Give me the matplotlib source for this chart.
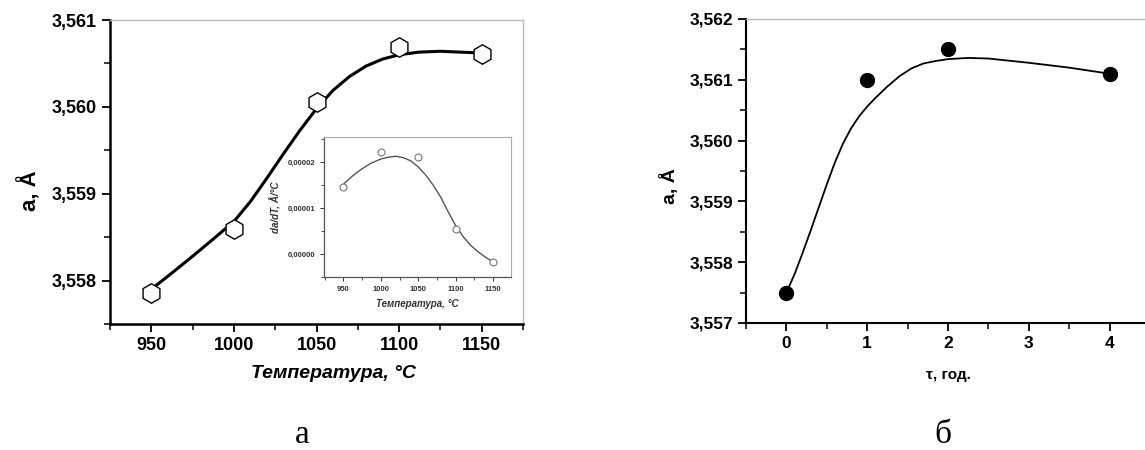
import numpy as np
import matplotlib
matplotlib.use("Agg")
import matplotlib.pyplot as plt
from matplotlib.ticker import MultipleLocator, FuncFormatter

plt.rcParams['font.family'] = ['Liberation Sans', 'DejaVu Sans']

# Panel a: lattice parameter vs temperature
temp = [950, 1000, 1050, 1100, 1150]
a_temp = [3.55786, 3.55859, 3.56006, 3.56069, 3.56061]
fit_temp = [950, 962, 975, 987, 1000, 1010, 1020, 1030, 1040, 1050, 1060,
            1070, 1080, 1090, 1100, 1112, 1125, 1137, 1150]
fit_a_temp = [3.55790, 3.55808, 3.55828, 3.55847, 3.55868, 3.55891, 3.55918,
              3.55946, 3.55973, 3.55998, 3.56019, 3.56035, 3.56047, 3.56055,
              3.56060, 3.56063, 3.56064, 3.56063, 3.56062]

# inset: da/dT
dadt = [1.46e-5, 2.22e-5, 2.11e-5, 0.54e-5, -0.17e-5]
fit_dT = [950, 962, 975, 987, 1000, 1010, 1020, 1030, 1040, 1050, 1060, 1070,
          1080, 1090, 1100, 1110, 1120, 1130, 1140, 1150]
fit_dadt = [1.52e-5, 1.70e-5, 1.86e-5, 1.98e-5, 2.07e-5, 2.11e-5, 2.13e-5,
            2.10e-5, 2.03e-5, 1.90e-5, 1.72e-5, 1.50e-5, 1.24e-5, 0.92e-5,
            0.62e-5, 0.38e-5, 0.19e-5, 0.05e-5, -0.07e-5, -0.17e-5]

# Panel б: lattice parameter vs time
tau = [0, 1, 2, 4]
a_tau = [3.5575, 3.5610, 3.5615, 3.5611]
fit_tau = [0, 0.1, 0.2, 0.3, 0.4, 0.5, 0.6, 0.7, 0.8, 0.9, 1.0, 1.1, 1.25,
           1.4, 1.55, 1.7, 1.85, 2.0, 2.25, 2.5, 3.0, 3.5, 4.0]
fit_a_tau = [3.5575, 3.5578, 3.55815, 3.55852, 3.5589, 3.55928, 3.55964,
             3.55995, 3.5602, 3.5604, 3.56056, 3.5607, 3.56089, 3.56106,
             3.56119, 3.56127, 3.56131, 3.56134, 3.56136, 3.56135, 3.56128,
             3.5612, 3.5611]

comma = lambda d: FuncFormatter(lambda v, p: f"{v:.{d}f}".replace(".", ","))

fig = plt.figure(figsize=(11.45, 4.5), dpi=100)


def style(ax, lw=1.5):
    for s in ['left', 'bottom']:
        ax.spines[s].set_color('black')
        ax.spines[s].set_linewidth(lw)
    for s in ['top', 'right']:
        ax.spines[s].set_color('#bbbbbb')
        ax.spines[s].set_linewidth(1.0)
    ax.tick_params(which='major', direction='out', length=6, width=1.3,
                   top=False, right=False)
    ax.tick_params(which='minor', direction='out', length=4, width=1.1,
                   top=False, right=False)


# ---- left panel
ax1 = fig.add_axes([110/1145, 126/450, 413/1145, 304/450])
ax1.plot(fit_temp, fit_a_temp, color='black', lw=2.2, zorder=2,
         solid_joinstyle='round')
ax1.plot(temp, a_temp, 'h', ms=14, mfc='white', mec='black', mew=1.0, zorder=3)
ax1.set_xlim(925, 1175)
ax1.set_ylim(3.5575, 3.561)
ax1.xaxis.set_major_locator(MultipleLocator(50))
ax1.xaxis.set_minor_locator(MultipleLocator(25))
ax1.yaxis.set_major_locator(MultipleLocator(0.001))
ax1.yaxis.set_minor_locator(MultipleLocator(0.0005))
ax1.yaxis.set_major_formatter(comma(3))
style(ax1, 1.8)
for lab in ax1.get_xticklabels() + ax1.get_yticklabels():
    lab.set_fontsize(13)
    lab.set_fontweight('bold')
ax1.set_xlabel('Температура, °C', fontsize=14, fontweight='bold', style='italic')
ax1.xaxis.set_label_coords(0.54, -0.135)
ax1.set_ylabel('a, Å', fontsize=16, fontweight='bold')
ax1.yaxis.set_label_coords(-0.165, 0.44)

# ---- inset
ax3 = fig.add_axes([324/1145, 173/450, 187/1145, 140/450])
ax3.plot(fit_dT, fit_dadt, color='#555555', lw=1.0, solid_joinstyle='round')
ax3.plot(temp, dadt, 'o', ms=5, mfc='white', mec='#777777', mew=0.8)
ax3.set_xlim(924, 1174)
ax3.set_ylim(-0.5e-5, 2.55e-5)
ax3.xaxis.set_major_locator(MultipleLocator(50))
ax3.xaxis.set_minor_locator(MultipleLocator(25))
ax3.yaxis.set_major_locator(MultipleLocator(1e-5))
ax3.yaxis.set_minor_locator(MultipleLocator(0.5e-5))
ax3.yaxis.set_major_formatter(comma(5))
for s in ['left', 'bottom']:
    ax3.spines[s].set_color('#555555')
    ax3.spines[s].set_linewidth(0.9)
for s in ['top', 'right']:
    ax3.spines[s].set_color('#aaaaaa')
    ax3.spines[s].set_linewidth(0.8)
ax3.tick_params(which='major', direction='out', length=3, width=0.7,
                labelsize=5.5, colors='#333333')
ax3.tick_params(which='minor', direction='out', length=2, width=0.6, colors='#333333')
for lab in ax3.get_xticklabels() + ax3.get_yticklabels():
    lab.set_fontweight('bold')
ax3.set_xlabel('Температура, °C', fontsize=7, fontweight='bold', style='italic', color='#333333')
ax3.set_ylabel('da/dT, Å/°C', fontsize=7, fontweight='bold', style='italic', color='#333333')

# ---- right panel
ax2 = fig.add_axes([746/1145, 127/450, 404/1145, 304/450])
ax2.plot(fit_tau, fit_a_tau, color='black', lw=1.3, zorder=2,
         solid_joinstyle='round')
ax2.plot(tau, a_tau, 'o', ms=10, color='black', zorder=3)
ax2.set_xlim(-0.5, 4.5)
ax2.set_ylim(3.557, 3.562)
ax2.xaxis.set_major_locator(MultipleLocator(1))
ax2.xaxis.set_minor_locator(MultipleLocator(0.5))
ax2.yaxis.set_major_locator(MultipleLocator(0.001))
ax2.yaxis.set_minor_locator(MultipleLocator(0.0005))
ax2.yaxis.set_major_formatter(comma(3))
style(ax2, 1.5)
for lab in ax2.get_xticklabels() + ax2.get_yticklabels():
    lab.set_fontsize(12.5)
    lab.set_fontweight('bold')
ax2.set_xlabel('τ, год.', fontsize=11, fontweight='bold', labelpad=12)
ax2.set_ylabel('a, Å', fontsize=14, fontweight='bold')
ax2.yaxis.set_label_coords(-0.165, 0.45)

# captions
fig.text(302/1145, 1 - 435/450, 'а', fontsize=24, family='Liberation Serif', ha='center', va='center')
fig.text(943/1145, 1 - 435/450, 'б', fontsize=24, family='Liberation Serif', ha='center', va='center')

fig.savefig('out.png', dpi=100)
